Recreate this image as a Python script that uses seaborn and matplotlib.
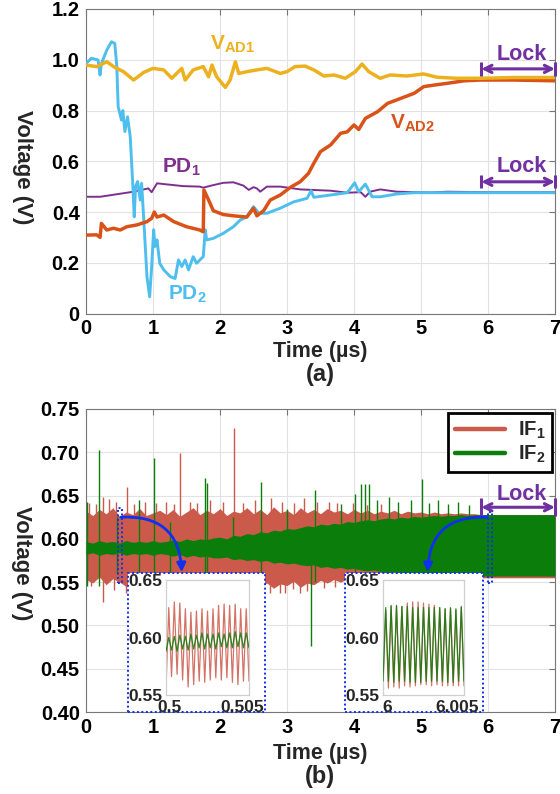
import numpy as np
import pandas as pd
import matplotlib
matplotlib.use("Agg")
import matplotlib.pyplot as plt
import seaborn as sns
from matplotlib.patches import Rectangle
from matplotlib.lines import Line2D
from matplotlib.transforms import ScaledTranslation

# ---------------- (a) control voltages during acquisition ----------------
vad1_t = [0, 0.16, 0.31, 0.43, 0.56, 0.71, 0.86, 1.0, 1.16, 1.28, 1.43, 1.48, 1.6, 1.75, 1.83,
          1.88, 1.95, 2.08, 2.15, 2.23, 2.28, 2.4, 2.55, 2.7, 2.9, 3.0, 3.12, 3.27, 3.4, 3.55,
          3.7, 3.87, 4.02, 4.12, 4.22, 4.39, 4.54, 4.79, 5.04, 5.24, 5.54, 5.89, 6.39, 7.0]
vad1_v = [0.979, 0.973, 0.992, 0.97, 0.953, 0.92, 0.95, 0.966, 0.96, 0.927, 0.966, 0.92, 0.96,
          0.973, 0.933, 0.979, 0.933, 0.891, 0.92, 0.992, 0.946, 0.953, 0.96, 0.966, 0.946,
          0.953, 0.973, 0.975, 0.96, 0.936, 0.94, 0.927, 0.953, 0.983, 0.953, 0.927, 0.94,
          0.936, 0.944, 0.931, 0.927, 0.927, 0.93, 0.93]

vad2_t = [0, 0.16, 0.21, 0.23, 0.31, 0.41, 0.51, 0.61, 0.76, 0.91, 0.98, 1.02, 1.06, 1.16, 1.31,
          1.5, 1.7, 1.75, 1.76, 1.83, 1.9, 2.05, 2.2, 2.4, 2.5, 2.55, 2.65, 2.75, 2.9, 3.05, 3.2,
          3.32, 3.4, 3.5, 3.65, 3.8, 3.9, 4.0, 4.07, 4.17, 4.35, 4.5, 4.7, 4.9, 5.04, 5.19, 5.39,
          5.64, 5.89, 6.39, 7.0]
vad2_v = [0.309, 0.31, 0.30, 0.355, 0.329, 0.336, 0.329, 0.342, 0.349, 0.362, 0.375, 0.40, 0.38,
          0.388, 0.362, 0.342, 0.329, 0.322, 0.487, 0.447, 0.405, 0.39, 0.385, 0.38, 0.415,
          0.385, 0.405, 0.447, 0.467, 0.497, 0.52, 0.552, 0.592, 0.638, 0.664, 0.71, 0.716,
          0.743, 0.725, 0.769, 0.795, 0.828, 0.848, 0.868, 0.894, 0.90, 0.907, 0.917, 0.92,
          0.92, 0.917]

pd1_t = [0, 0.21, 0.46, 0.71, 0.93, 0.98, 1.03, 1.06, 1.2, 1.45, 1.7, 1.75, 1.9, 2.05, 2.2,
         2.35, 2.43, 2.5, 2.55, 2.6, 2.7, 2.9, 3.2, 3.65, 3.9, 4.1, 4.17, 4.24, 4.39, 4.64,
         5.14, 5.39, 6.0, 7.0]
pd1_v = [0.46, 0.46, 0.47, 0.48, 0.493, 0.478, 0.50, 0.513, 0.509, 0.502, 0.50, 0.496, 0.506,
         0.515, 0.517, 0.504, 0.487, 0.498, 0.493, 0.48, 0.50, 0.50, 0.489, 0.484, 0.476,
         0.478, 0.46, 0.48, 0.489, 0.48, 0.477, 0.48, 0.478, 0.478]

pd2_t = [0, 0.08, 0.18, 0.21, 0.23, 0.31, 0.38, 0.43, 0.46, 0.48, 0.53, 0.55, 0.58, 0.62, 0.66,
         0.70, 0.72, 0.74, 0.77, 0.81, 0.83, 0.86, 0.91, 0.95, 0.98, 1.01, 1.03, 1.06, 1.10,
         1.16, 1.26, 1.33, 1.38, 1.43, 1.48, 1.53, 1.6, 1.65, 1.7, 1.75, 1.78, 1.8, 1.9, 2.05,
         2.2, 2.3, 2.4, 2.5, 2.58, 2.7, 2.9, 3.1, 3.3, 3.36, 3.4, 3.65, 3.9, 4.01, 4.07, 4.17,
         4.27, 4.39, 4.64, 4.89, 5.39, 7.0]
pd2_v = [0.985, 1.006, 0.999, 0.94, 0.985, 1.038, 1.071, 1.064, 0.973, 0.815, 0.762, 0.80,
         0.717, 0.775, 0.697, 0.50, 0.381, 0.50, 0.52, 0.447, 0.513, 0.381, 0.145, 0.066,
         0.185, 0.33, 0.264, 0.29, 0.198, 0.172, 0.145, 0.138, 0.211, 0.185, 0.211, 0.172,
         0.224, 0.198, 0.211, 0.224, 0.33, 0.29, 0.296, 0.316, 0.342, 0.368, 0.381, 0.421,
         0.395, 0.395, 0.415, 0.44, 0.454, 0.484, 0.458, 0.467, 0.476, 0.515, 0.48, 0.51,
         0.46, 0.46, 0.471, 0.476, 0.476, 0.476]

top_xticks = [0, 1, 2, 3, 4, 5, 6, 7]
top_yticks = [0, 0.2, 0.4, 0.6, 0.8, 1.0, 1.2]
top_yticklabels = ["0", "0.2", "0.4", "0.6", "0.8", "1.0", "1.2"]
lock_span = [5.9, 7.0]

# ---------------- (b) IF outputs ----------------
# upper / lower envelope of each IF trace, read every 0.1 us from 0 to 7 us
if1_hi = [0.632, 0.627, 0.634, 0.629, 0.636, 0.626, 0.631, 0.628, 0.635, 0.627,
          0.630, 0.633, 0.628, 0.634, 0.626, 0.631, 0.636, 0.628, 0.633, 0.629,
          0.635, 0.627, 0.632, 0.630, 0.636, 0.629, 0.634, 0.628, 0.637, 0.630,
          0.633, 0.628, 0.636, 0.630, 0.634, 0.629, 0.635, 0.631, 0.633, 0.629,
          0.634, 0.630, 0.633, 0.629, 0.632, 0.630, 0.633, 0.629, 0.632, 0.630,
          0.631, 0.629, 0.631, 0.629, 0.630, 0.629, 0.630, 0.629, 0.629, 0.628,
          0.628, 0.628, 0.628, 0.628, 0.628, 0.628, 0.628, 0.628, 0.628, 0.628, 0.628]
if1_lo = [0.553, 0.549, 0.556, 0.547, 0.554, 0.550, 0.545, 0.553, 0.548, 0.555,
          0.549, 0.552, 0.547, 0.554, 0.548, 0.553, 0.546, 0.551, 0.555, 0.548,
          0.552, 0.546, 0.550, 0.554, 0.547, 0.552, 0.545, 0.549, 0.543, 0.548,
          0.546, 0.551, 0.544, 0.549, 0.547, 0.552, 0.549, 0.553, 0.550, 0.554,
          0.551, 0.553, 0.550, 0.554, 0.552, 0.554, 0.552, 0.554, 0.553, 0.554,
          0.554, 0.555, 0.554, 0.555, 0.555, 0.555, 0.555, 0.555, 0.555, 0.555,
          0.555, 0.555, 0.555, 0.555, 0.555, 0.555, 0.555, 0.555, 0.555, 0.555, 0.555]
if2_hi = [0.597, 0.595, 0.598, 0.596, 0.597, 0.595, 0.598, 0.596, 0.597, 0.596,
          0.598, 0.596, 0.597, 0.599, 0.597, 0.600, 0.598, 0.600, 0.599, 0.601,
          0.602, 0.600, 0.604, 0.603, 0.606, 0.605, 0.608, 0.607, 0.610, 0.609,
          0.612, 0.611, 0.613, 0.615, 0.614, 0.617, 0.616, 0.618, 0.617, 0.620,
          0.619, 0.621, 0.622, 0.621, 0.623, 0.624, 0.623, 0.625, 0.624, 0.626,
          0.625, 0.626, 0.627, 0.626, 0.627, 0.627, 0.628, 0.627, 0.628, 0.628,
          0.628, 0.628, 0.628, 0.628, 0.628, 0.628, 0.628, 0.628, 0.628, 0.628, 0.628]
if2_lo = [0.582, 0.584, 0.581, 0.583, 0.582, 0.584, 0.581, 0.583, 0.582, 0.583,
          0.581, 0.583, 0.582, 0.580, 0.582, 0.579, 0.581, 0.579, 0.580, 0.578,
          0.578, 0.579, 0.576, 0.577, 0.575, 0.576, 0.574, 0.575, 0.572, 0.573,
          0.571, 0.572, 0.570, 0.569, 0.570, 0.567, 0.568, 0.566, 0.567, 0.565,
          0.566, 0.564, 0.563, 0.564, 0.562, 0.561, 0.562, 0.560, 0.561, 0.559,
          0.560, 0.559, 0.558, 0.559, 0.558, 0.558, 0.557, 0.558, 0.557, 0.557,
          0.557, 0.557, 0.557, 0.557, 0.557, 0.557, 0.557, 0.557, 0.557, 0.557, 0.557]

# glitches that stick out of the bands: (time, extreme value)
if1_spike_t = [0.05, 0.15, 0.26, 0.35, 0.45, 0.61, 0.72, 0.88, 1.05, 1.2, 1.32, 1.41, 1.55,
               1.65, 1.85, 2.05, 2.21, 2.35, 2.52, 2.76, 2.92, 3.1, 3.26, 3.45, 3.62, 3.74,
               3.98, 4.2, 4.4,
               0.08, 0.25, 0.42, 0.6, 0.78, 1.0, 1.15, 1.3, 1.5, 1.68, 1.9, 2.08, 2.24, 2.45,
               2.62, 2.74, 2.89, 2.97, 3.09, 3.19, 3.3, 3.55, 3.72, 3.9, 4.1]
if1_spike_v = [0.641, 0.640, 0.648, 0.646, 0.642, 0.660, 0.640, 0.643, 0.641, 0.643, 0.640,
               0.699, 0.642, 0.641, 0.645, 0.642, 0.728, 0.641, 0.645, 0.647, 0.642, 0.641,
               0.647, 0.643, 0.642, 0.641, 0.641, 0.639, 0.640,
               0.545, 0.527, 0.541, 0.537, 0.542, 0.545, 0.540, 0.541, 0.543, 0.540, 0.542,
               0.541, 0.540, 0.542, 0.539, 0.537, 0.538, 0.537, 0.542, 0.537, 0.540, 0.543,
               0.544, 0.545, 0.546]
if2_spike_t = [0.02, 0.19, 0.47, 0.79, 1.01, 1.25, 1.77, 1.80, 2.2, 2.61, 3.0, 3.42, 3.8,
               4.01, 4.11, 4.16, 4.22, 4.35, 4.52, 4.65, 4.85, 5.02, 5.12, 5.25, 5.4, 5.55,
               5.72,
               0.02, 0.19, 0.47, 0.79, 1.01, 1.25, 1.77, 1.80, 2.61, 3.36, 3.42, 4.01]
if2_spike_v = [0.643, 0.703, 0.625, 0.645, 0.693, 0.620, 0.670, 0.665, 0.625, 0.666, 0.635,
               0.657, 0.640, 0.652, 0.663, 0.663, 0.663, 0.645, 0.648, 0.643, 0.645, 0.669,
               0.641, 0.645, 0.640, 0.643, 0.639,
               0.545, 0.545, 0.560, 0.553, 0.551, 0.560, 0.543, 0.548, 0.550, 0.476, 0.550,
               0.550]

# zoomed windows: peak / trough of every IF cycle
zoom1_span = [0.5, 0.505]
zoom1_if1_peak = [0.626, 0.631, 0.630, 0.625, 0.622, 0.623, 0.625, 0.623, 0.625, 0.628,
                  0.629, 0.628, 0.629, 0.625, 0.625]
zoom1_if1_trough = [0.556, 0.566, 0.568, 0.563, 0.557, 0.559, 0.562, 0.561, 0.563, 0.565,
                    0.563, 0.565, 0.561, 0.559, 0.562]
zoom1_if2_peak = [0.600, 0.601, 0.602, 0.601, 0.603, 0.602, 0.604, 0.603, 0.603, 0.604,
                  0.603, 0.604, 0.605, 0.604, 0.604]
zoom1_if2_trough = [0.588, 0.589, 0.588, 0.590, 0.589, 0.590, 0.591, 0.590, 0.591, 0.590,
                    0.592, 0.591, 0.591, 0.592, 0.591]

zoom2_span = [6.0, 6.005]
zoom2_if1_peak = [0.624, 0.627, 0.627, 0.627, 0.630, 0.631, 0.631, 0.630, 0.629, 0.628,
                  0.626, 0.625, 0.625, 0.624, 0.626]
zoom2_if1_trough = [0.557, 0.556, 0.557, 0.556, 0.558, 0.557, 0.558, 0.559, 0.559, 0.558,
                    0.559, 0.558, 0.558, 0.558, 0.558]
zoom2_if2_peak = [0.626, 0.628, 0.628, 0.627, 0.627, 0.626, 0.626, 0.626, 0.626, 0.626,
                  0.626, 0.625, 0.626, 0.625, 0.627]
zoom2_if2_trough = [0.562, 0.562, 0.561, 0.562, 0.562, 0.561, 0.561, 0.561, 0.562, 0.562,
                    0.562, 0.562, 0.561, 0.561, 0.562]

bot_yticks = [0.40, 0.45, 0.50, 0.55, 0.60, 0.65, 0.70, 0.75]

# ---------------- styling ----------------
C_VAD1, C_VAD2 = "#EDB120", "#D95319"
C_PD1, C_PD2 = "#7E2F8E", "#4DBEEE"
C_IF1, C_IF2 = "#CB5A4B", "#0B7D0B"
C_LOCK = "#7030A0"
C_BLUE = "#1030F0"

sns.set_theme(style="whitegrid")
plt.rcParams.update({
    "font.family": ["Liberation Sans", "DejaVu Sans"],
    "font.weight": "bold",
    "mathtext.fontset": "custom",
    "mathtext.rm": "Liberation Sans:bold",
    "mathtext.it": "Liberation Sans:bold",
    "mathtext.bf": "Liberation Sans:bold",
})

W, H = 560, 794
fig = plt.figure(figsize=(W / 100, H / 100), dpi=100)
fig.patch.set_facecolor("white")


def px_axes(left, top, right, bottom):
    return fig.add_axes([left / W, 1 - bottom / H, (right - left) / W, (bottom - top) / H])


def style_main(ax, fs=14.5):
    ax.set_facecolor("white")
    ax.set_axisbelow(True)
    ax.grid(True, color="#e2e2e2", lw=0.8)
    for s in ax.spines.values():
        s.set_visible(True)
        s.set_color("#777777")
        s.set_linewidth(0.8)
    ax.tick_params(axis="both", direction="in", length=4, width=0.8, color="#777777",
                   top=True, right=True, labelsize=fs, labelcolor="black")
    ax.tick_params(axis="x", pad=4)
    ax.tick_params(axis="y", pad=4.5)
    ax.set_xlabel("")
    ax.set_ylabel("")


def lock_marker(ax, y_text, y_arrow, half_bar):
    x0, x1 = lock_span
    ax.annotate("", xy=(x1, y_arrow), xytext=(x0, y_arrow),
                arrowprops=dict(arrowstyle="<->", color=C_LOCK, lw=2.2,
                                mutation_scale=13, shrinkA=0, shrinkB=0),
                annotation_clip=False, zorder=8)
    for xb in (x0, x1):
        ax.plot([xb, xb], [y_arrow - half_bar, y_arrow + half_bar], color=C_LOCK, lw=2.2,
                clip_on=False, zorder=8, solid_capstyle="butt")
    ax.text((x0 + x1) / 2 + 0.05, y_text, "Lock", color=C_LOCK, fontsize=15.5,
            fontweight="bold", ha="center", va="center", zorder=8)


# ================= panel (a) =================
ax1 = px_axes(86, 9, 555, 313.5)
top_series = [
    (pd1_t, pd1_v, C_PD1, 1.4, 2),
    (pd2_t, pd2_v, C_PD2, 2.1, 3),
    (vad2_t, vad2_v, C_VAD2, 2.5, 4),
    (vad1_t, vad1_v, C_VAD1, 2.5, 5),
]
for t, v, c, lw, z in top_series:
    sns.lineplot(data=pd.DataFrame({"t": t, "v": v}), x="t", y="v", ax=ax1, color=c, lw=lw,
                 estimator=None, sort=False, zorder=z)
style_main(ax1)
ax1.set_xlim(0, 7)
ax1.set_ylim(0, 1.2)
ax1.set_xticks(top_xticks)
ax1.set_yticks(top_yticks)
ax1.set_yticklabels(top_yticklabels)

lbl_fs = 15
ax1.text(1.85, 1.06, r"V$_{\mathregular{AD1}}$", color=C_VAD1, fontsize=lbl_fs, va="center")
ax1.text(4.54, 0.75, r"V$_{\mathregular{AD2}}$", color=C_VAD2, fontsize=lbl_fs, va="center")
ax1.text(1.13, 0.575, r"PD$_{\mathregular{1}}$", color=C_PD1, fontsize=lbl_fs, va="center")
ax1.text(1.23, 0.075, r"PD$_{\mathregular{2}}$", color=C_PD2, fontsize=lbl_fs, va="center")

lock_marker(ax1, 1.02, 0.964, 0.028)
lock_marker(ax1, 0.579, 0.519, 0.026)

# ================= panel (b) =================
ax2 = px_axes(86, 409, 555, 712)
env_t = np.linspace(0, 7, len(if1_hi))

ax2.fill_between(env_t, if1_lo, if1_hi, color=C_IF1, lw=0, zorder=2)
ax2.vlines(if1_spike_t, 0.59, if1_spike_v, color=C_IF1, lw=1.0, zorder=2)
ax2.fill_between(env_t, if2_lo, if2_hi, color=C_IF2, lw=0, zorder=3)
ax2.vlines(if2_spike_t, 0.59, if2_spike_v, color=C_IF2, lw=1.0, zorder=3)

style_main(ax2)
ax2.set_xlim(0, 7)
ax2.set_ylim(0.40, 0.75)
ax2.set_xticks(top_xticks)
ax2.set_yticks(bot_yticks)
ax2.set_yticklabels([f"{y:.2f}" for y in bot_yticks])

leg_handles = [Line2D([0], [0], color=C_IF1, lw=3.2), Line2D([0], [0], color=C_IF2, lw=3.2)]
leg = ax2.legend(leg_handles, [r"IF$_{\mathregular{1}}$", r"IF$_{\mathregular{2}}$"],
                 loc="upper right", bbox_to_anchor=(0.994, 0.988), borderaxespad=0,
                 frameon=True, fancybox=False, framealpha=1, edgecolor="black",
                 fontsize=14.5, handlelength=2.5, handletextpad=0.6, labelspacing=0.15,
                 borderpad=0.35)
leg.get_frame().set_linewidth(2)
leg.set_zorder(10)

lock_marker(ax2, 0.651, 0.6365, 0.0105)

# white frames holding the zoomed views, and the marked windows on the trace
dot = (0, (1, 1.3))
for (x0, x1) in [(0.63, 2.675), (3.87, 5.92)]:
    ax2.add_patch(Rectangle((x0, 0.40), x1 - x0, 0.1606, facecolor="white",
                            edgecolor=C_BLUE, lw=1.4, ls=dot, zorder=6, clip_on=False))
for (x0, x1, y0, y1) in [(0.48, 0.535, 0.549, 0.636), (6.0, 6.06, 0.549, 0.631)]:
    ax2.add_patch(Rectangle((x0, y0), x1 - x0, y1 - y0, facecolor="none",
                            edgecolor=C_BLUE, lw=1.4, ls=dot, zorder=7))

ax2.annotate("", xy=(1.43, 0.5615), xytext=(0.52, 0.625),
             arrowprops=dict(arrowstyle="-|>", color=C_BLUE, lw=2, mutation_scale=13,
                             connectionstyle="arc3,rad=-0.5", shrinkA=0, shrinkB=0),
             zorder=9)
ax2.annotate("", xy=(5.1, 0.5615), xytext=(5.99, 0.625),
             arrowprops=dict(arrowstyle="-|>", color=C_BLUE, lw=2, mutation_scale=13,
                             connectionstyle="arc3,rad=0.5", shrinkA=0, shrinkB=0),
             zorder=9)


def zoom_view(box, span, p1, tr1, p2, tr2, xlabels):
    ax = px_axes(*box)
    ax.set_facecolor("white")
    for peaks, troughs, col, z in [(p1, tr1, C_IF1, 2), (p2, tr2, C_IF2, 3)]:
        vals = [v for pair in zip(troughs, peaks) for v in pair] + [troughs[-1]]
        tt = np.linspace(span[0], span[1], len(vals))
        sns.lineplot(x=tt, y=vals, ax=ax, color=col, lw=0.9, alpha=0.85,
                     estimator=None, sort=False, zorder=z)
    ax.set_xlim(*span)
    ax.set_ylim(0.55, 0.65)
    ax.grid(False)
    for s in ax.spines.values():
        s.set_visible(True)
        s.set_color("#cfcfcf")
        s.set_linewidth(0.9)
    ax.set_xticks(span)
    ax.set_xticklabels(xlabels)
    ax.set_yticks([0.55, 0.60, 0.65])
    ax.set_yticklabels(["0.55", "0.60", "0.65"])
    ax.tick_params(axis="y", length=0, labelsize=12.5, pad=2.5)
    ax.tick_params(axis="x", length=0, labelsize=12.5, pad=3.5)
    ax.set_xlabel("")
    ax.set_ylabel("")
    first, last = ax.get_xticklabels()
    first.set_transform(first.get_transform() + ScaledTranslation(0.04, 0, fig.dpi_scale_trans))
    last.set_transform(last.get_transform() + ScaledTranslation(-0.07, 0, fig.dpi_scale_trans))
    return ax


zoom_view((166, 580, 249, 695), zoom1_span, zoom1_if1_peak, zoom1_if1_trough,
          zoom1_if2_peak, zoom1_if2_trough, ["0.5", "0.505"])
zoom_view((383, 580, 464, 695), zoom2_span, zoom2_if1_peak, zoom2_if1_trough,
          zoom2_if2_peak, zoom2_if2_trough, ["6", "6.005"])

# ---------------- axis titles and panel tags ----------------
fig.text(22 / W, 1 - 167 / H, "Voltage (V)", rotation=270, ha="center", va="center",
         fontsize=16, fontweight="bold")
fig.text(21 / W, 1 - 563 / H, "Voltage (V)", rotation=270, ha="center", va="center",
         fontsize=16, fontweight="bold")
fig.text(320 / W, 1 - 352 / H, "Time (µs)", ha="center", va="center", fontsize=15.5,
         fontweight="bold")
fig.text(320 / W, 1 - 375 / H, "(a)", ha="center", va="center", fontsize=17, fontweight="bold")
fig.text(320 / W, 1 - 753 / H, "Time (µs)", ha="center", va="center", fontsize=15.5,
         fontweight="bold")
fig.text(320 / W, 1 - 777 / H, "(b)", ha="center", va="center", fontsize=17, fontweight="bold")

fig.savefig("out.png", dpi=100, facecolor="white")
